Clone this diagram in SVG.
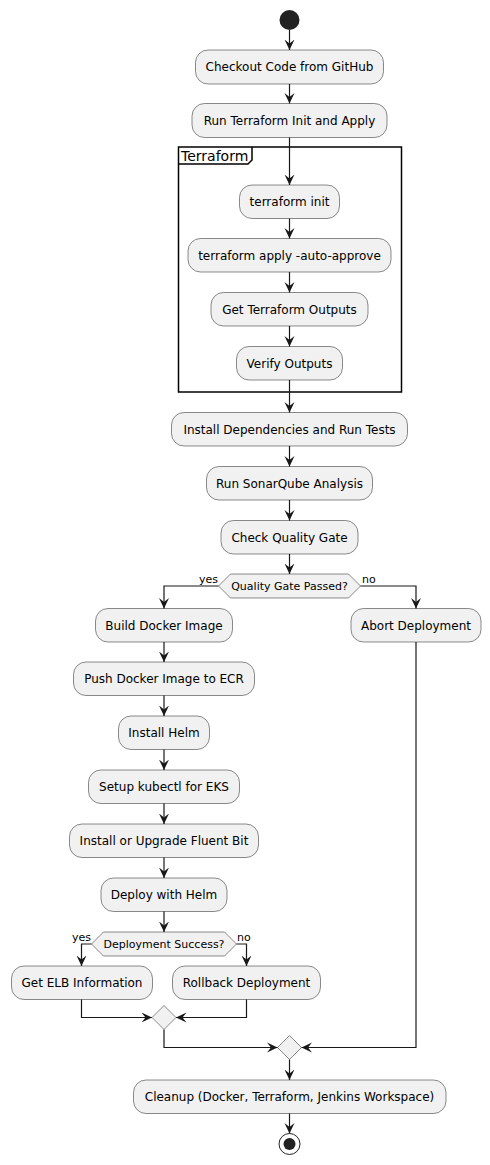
<svg xmlns="http://www.w3.org/2000/svg" width="490" height="1165" viewBox="0 0 490 1165">
<style>
.act rect{fill:#F1F1F1;stroke:#181818;stroke-width:0.5}
.dia polygon{fill:#F1F1F1;stroke:#181818;stroke-width:0.5}
text{font-family:"DejaVu Sans","Liberation Sans",sans-serif;fill:#000000}
.t{font-size:12px;text-anchor:middle}
.d{font-size:11px;text-anchor:middle}
.l{font-size:11px}
.conn path{fill:none;stroke:#181818;stroke-width:1.2;marker-end:url(#ah)}
</style>
<defs>
<marker id="ah" viewBox="0 0 11 11" refX="10.5" refY="5.5" markerWidth="11" markerHeight="11" markerUnits="userSpaceOnUse" orient="auto">
<path d="M0,0.5 L10.5,5.5 L0,10.5 L4,5.5 Z" fill="#181818"/>
</marker>
</defs>
<rect width="490" height="1165" fill="#FFFFFF"/>

<g id="frame-terraform">
<rect x="178.5" y="147" width="223" height="245" fill="none" stroke="#000000" stroke-width="1.5"/>
<path d="M178.5,164 L248,164 L252,160 L252,147" fill="none" stroke="#000000" stroke-width="1.5"/>
<text x="181" y="161" style="font-size:14px">Terraform</text>
</g>

<g id="start"><circle cx="289.5" cy="20" r="10" fill="#222222"/></g>

<g id="checkout" class="act"><rect x="195.5" y="50" width="188" height="34" rx="12.5"/><text class="t" x="289.5" y="71">Checkout Code from GitHub</text></g>
<g id="run-terraform" class="act"><rect x="192" y="103.5" width="195" height="34" rx="12.5"/><text class="t" x="289.5" y="124.5">Run Terraform Init and Apply</text></g>
<g id="tf-init" class="act"><rect x="239.5" y="185" width="100" height="33.5" rx="12.5"/><text class="t" x="289.5" y="206">terraform init</text></g>
<g id="tf-apply" class="act"><rect x="188" y="238.5" width="203" height="33.5" rx="12.5"/><text class="t" x="289.5" y="259.5">terraform apply -auto-approve</text></g>
<g id="tf-outputs" class="act"><rect x="211" y="292.5" width="157" height="33.5" rx="12.5"/><text class="t" x="289.5" y="313.5">Get Terraform Outputs</text></g>
<g id="verify" class="act"><rect x="236.5" y="346.5" width="106" height="33.5" rx="12.5"/><text class="t" x="289.5" y="367.5">Verify Outputs</text></g>
<g id="install-deps" class="act"><rect x="171.5" y="412.5" width="236" height="33.5" rx="12.5"/><text class="t" x="289.5" y="433.5">Install Dependencies and Run Tests</text></g>
<g id="sonar" class="act"><rect x="206.5" y="466.5" width="166" height="33.5" rx="12.5"/><text class="t" x="289.5" y="487.5">Run SonarQube Analysis</text></g>
<g id="check-qg" class="act"><rect x="221" y="520.5" width="137" height="33.5" rx="12.5"/><text class="t" x="289.5" y="541.5">Check Quality Gate</text></g>

<g id="qg-decision" class="dia"><polygon points="218.5,586 230.5,574 348.5,574 360.5,586 348.5,598 230.5,598"/><text class="d" x="289.5" y="590">Quality Gate Passed?</text></g>

<g id="build-docker" class="act"><rect x="95.5" y="608.5" width="137" height="33.5" rx="12.5"/><text class="t" x="164" y="629.5">Build Docker Image</text></g>
<g id="abort" class="act"><rect x="351" y="608.5" width="130" height="33.5" rx="12.5"/><text class="t" x="416" y="629.5">Abort Deployment</text></g>
<g id="push-ecr" class="act"><rect x="73.5" y="662" width="181" height="33.5" rx="12.5"/><text class="t" x="164" y="683">Push Docker Image to ECR</text></g>
<g id="install-helm" class="act"><rect x="118.5" y="716" width="91" height="33.5" rx="12.5"/><text class="t" x="164" y="737">Install Helm</text></g>
<g id="kubectl" class="act"><rect x="88.5" y="770" width="151" height="33.5" rx="12.5"/><text class="t" x="164" y="791">Setup kubectl for EKS</text></g>
<g id="fluent-bit" class="act"><rect x="69.5" y="824" width="189" height="33.5" rx="12.5"/><text class="t" x="164" y="845">Install or Upgrade Fluent Bit</text></g>
<g id="deploy-helm" class="act"><rect x="101" y="878" width="126" height="33.5" rx="12.5"/><text class="t" x="164" y="899">Deploy with Helm</text></g>

<g id="deploy-decision" class="dia"><polygon points="91.5,944 103.5,932 224.5,932 236.5,944 224.5,956 103.5,956"/><text class="d" x="164" y="948">Deployment Success?</text></g>

<g id="elb-info" class="act"><rect x="11.5" y="966" width="141" height="33.5" rx="12.5"/><text class="t" x="82" y="987">Get ELB Information</text></g>
<g id="rollback" class="act"><rect x="172.5" y="966" width="148" height="33.5" rx="12.5"/><text class="t" x="246.5" y="987">Rollback Deployment</text></g>

<g id="merge1" class="dia"><polygon points="152,1017.5 164,1005.5 176,1017.5 164,1029.5"/></g>
<g id="merge2" class="dia"><polygon points="277.5,1047.5 289.5,1035.5 301.5,1047.5 289.5,1059.5"/></g>

<g id="cleanup" class="act"><rect x="133.5" y="1080" width="312.5" height="33.5" rx="12.5"/><text class="t" x="289.5" y="1101">Cleanup (Docker, Terraform, Jenkins Workspace)</text></g>

<g id="end"><circle cx="289.5" cy="1144" r="10.5" fill="none" stroke="#222222" stroke-width="1"/><circle cx="289.5" cy="1144" r="6" fill="#222222"/></g>

<g id="labels">
<text class="l" x="218" y="583" text-anchor="end">yes</text>
<text class="l" x="362" y="583">no</text>
<text class="l" x="91" y="941" text-anchor="end">yes</text>
<text class="l" x="237" y="941">no</text>
</g>

<g id="connectors" class="conn">
<path d="M289.5,30 L289.5,50"/>
<path d="M289.5,84 L289.5,103.5"/>
<path d="M289.5,137.5 L289.5,185"/>
<path d="M289.5,218.5 L289.5,238.5"/>
<path d="M289.5,272 L289.5,292.5"/>
<path d="M289.5,326 L289.5,346.5"/>
<path d="M289.5,380 L289.5,412.5"/>
<path d="M289.5,446 L289.5,466.5"/>
<path d="M289.5,500 L289.5,520.5"/>
<path d="M289.5,554 L289.5,574"/>
<path d="M218.5,586 L164,586 L164,608.5"/>
<path d="M360.5,586 L416,586 L416,608.5"/>
<path d="M164,642 L164,662"/>
<path d="M164,695.5 L164,716"/>
<path d="M164,749.5 L164,770"/>
<path d="M164,803.5 L164,824"/>
<path d="M164,857.5 L164,878"/>
<path d="M164,911.5 L164,932"/>
<path d="M91.5,944 L81.5,944 L81.5,966"/>
<path d="M236.5,944 L246.5,944 L246.5,966"/>
<path d="M81.5,999.5 L81.5,1017.5 L152,1017.5"/>
<path d="M246.5,999.5 L246.5,1017.5 L176,1017.5"/>
<path d="M164,1029.5 L164,1047.5 L277.5,1047.5"/>
<path d="M416,642 L416,1047.5 L301.5,1047.5"/>
<path d="M289.5,1059.5 L289.5,1080"/>
<path d="M289.5,1113.5 L289.5,1133.5"/>
</g>
</svg>
